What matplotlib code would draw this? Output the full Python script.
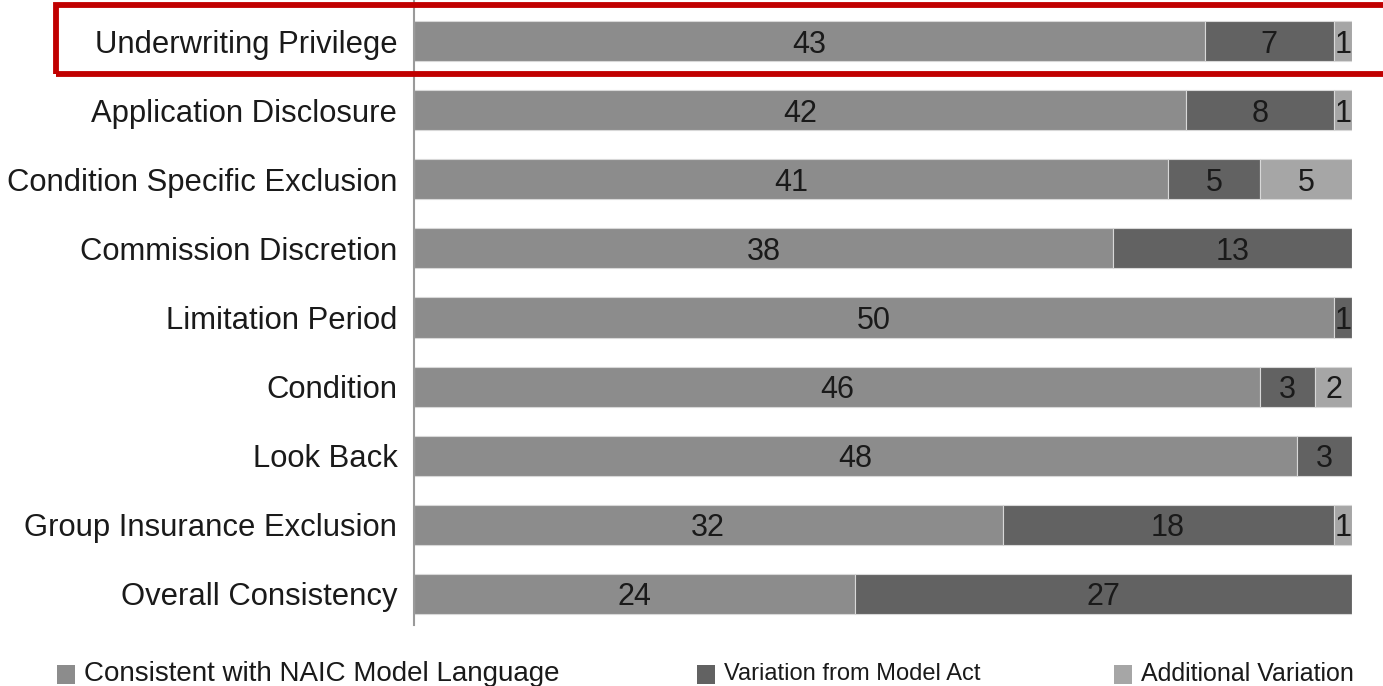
import numpy as np
import matplotlib.pyplot as plt
from matplotlib.patches import Rectangle

plt.rcParams['font.family'] = ['Liberation Sans', 'DejaVu Sans']

# Categories, top to bottom
categories = ['Underwriting Privilege', 'Application Disclosure', 'Condition Specific Exclusion',
              'Commission Discretion', 'Limitation Period', 'Condition', 'Look Back',
              'Group Insurance Exclusion', 'Overall Consistency']
consistent = [43, 42, 41, 38, 50, 46, 48, 32, 24]
variation = [7, 8, 5, 13, 1, 3, 3, 18, 27]
additional = [1, 1, 5, 0, 0, 2, 0, 1, 0]
series_names = ['Consistent with NAIC Model Language', 'Variation from Model Act', 'Additional Variation']
colors = ['#8c8c8c', '#626262', '#a6a6a6']

W, H = 1383, 686
fig = plt.figure(figsize=(W / 100, H / 100), dpi=100)
ax = fig.add_axes([414 / W, 1 - 625 / H, (1352 - 414) / W, 625 / H])

y = np.arange(len(categories))
left = np.zeros(len(categories))
for vals, col in zip([consistent, variation, additional], colors):
    vals = np.array(vals, dtype=float)
    bars = ax.barh(y, vals, left=left, height=0.58, color=col, edgecolor='#d8d8d8', linewidth=0.8)
    for b, v in zip(bars, vals):
        if v > 0:
            ax.text(b.get_x() + b.get_width() / 2, b.get_y() + b.get_height() / 2, f'{int(v)}',
                    ha='center', va='center_baseline', fontsize=22, color='#1a1a1a')
    left += vals

ax.set_xlim(0, 51)
ax.set_ylim(8 + 31 / 69.1, -41 / 69.1)
ax.set_yticks(y)
ax.set_yticklabels(categories, fontsize=22.3, color='#1a1a1a')
ax.tick_params(axis='y', length=0, pad=12)
ax.set_xticks([])
for s in ['top', 'right', 'bottom']:
    ax.spines[s].set_visible(False)
ax.spines['left'].set_color('#9a9a9a')
ax.spines['left'].set_linewidth(1.5)

# red highlight box around first row
fig.patches.append(Rectangle((56 / W, 1 - 74 / H), (W + 5 - 56) / W, 69 / H, transform=fig.transFigure,
                             fill=False, edgecolor='#c00000', linewidth=4.2, clip_on=False))

# legend at the bottom
leg_x = [57, 697, 1114]
leg_size = [20, 17, 18]
for name, col, lx, fs in zip(series_names, colors, leg_x, leg_size):
    fig.patches.append(Rectangle((lx / W, 1 - 684 / H), 18 / W, 19 / H, transform=fig.transFigure,
                                 facecolor=col, edgecolor='none'))
    fig.text((lx + 27) / W, 1 - 674 / H, name, fontsize=fs, va='center', ha='left', color='#1a1a1a')

fig.savefig('out.png', dpi=100)
